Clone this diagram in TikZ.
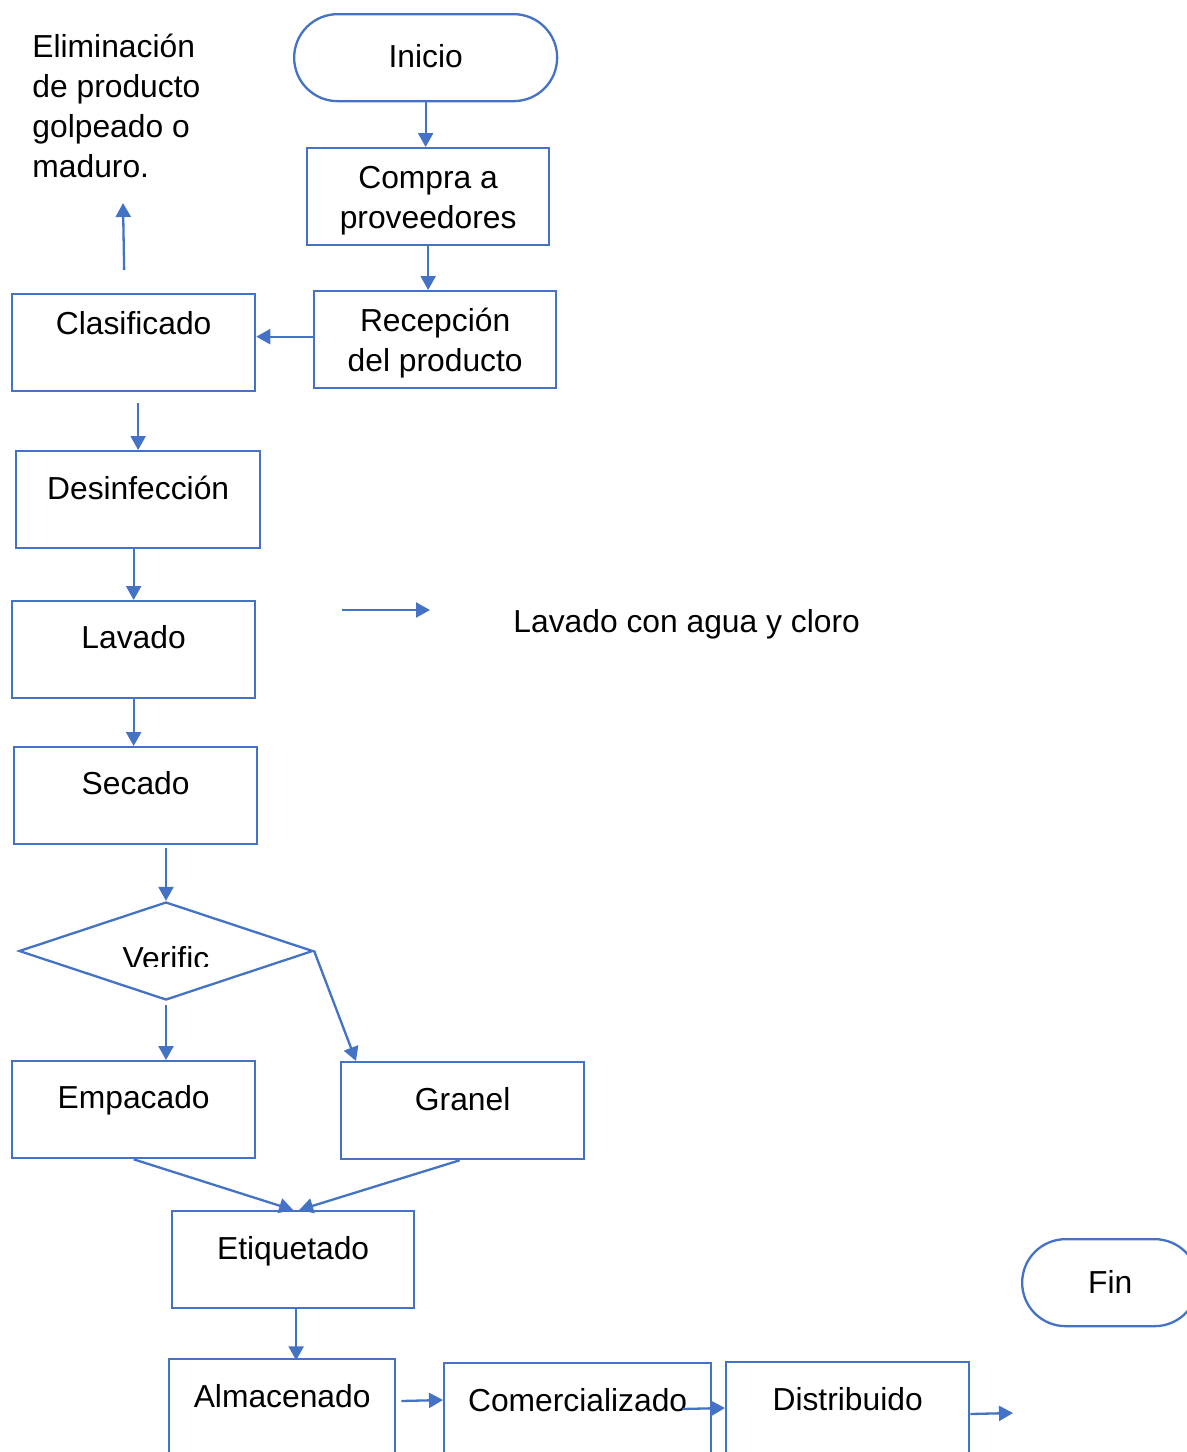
\documentclass[tikz,border=0pt]{standalone}
\usepackage{fontspec}
\setmainfont{Liberation Sans}
\usetikzlibrary{arrows.meta,shapes.geometric}
\definecolor{flowblue}{HTML}{4472C4}
\begin{document}
\begin{tikzpicture}[x=0.5pt,y=-0.5pt,
  font=\fontsize{15.9}{19.85}\selectfont,
  box/.style={draw=flowblue,line width=1.15pt,rectangle,inner sep=0pt,anchor=north west,minimum height=48.5pt},
  term/.style={draw=flowblue,line width=1.15pt,rectangle,rounded corners=21.75pt,inner sep=0pt,anchor=north west,minimum height=43.5pt},
  lbl/.style={anchor=base,inner sep=0pt,text=black},
  flow/.style={draw=flowblue,line width=1.15pt,-{Triangle[length=7pt,width=7.5pt]}},
]
\useasboundingbox (0,0) rectangle (1187,1452);
\clip (0,0) rectangle (1187,1452);
\fill[white] (0,0) rectangle (1187,1452);

% terminals
\node[term,minimum width=131.5pt] (inicio) at (293,13) {};
\node[term,minimum width=88pt] (fin) at (1021,1238) {};

% process boxes
\node[box,minimum width=121pt]   (compra)  at (306,147) {};
\node[box,minimum width=121pt]   (recep)   at (313,290) {};
\node[box,minimum width=121.5pt] (clasif)  at (11,293) {};
\node[box,minimum width=122pt]   (desinf)  at (15,450) {};
\node[box,minimum width=121.5pt] (lavado)  at (11,600) {};
\node[box,minimum width=121.5pt] (secado)  at (13,746) {};
\node[box,minimum width=121.5pt] (empac)   at (11,1060) {};
\node[box,minimum width=121.5pt] (granel)  at (340,1061) {};
\node[box,minimum width=121pt]   (etiq)    at (171,1210) {};
\node[box,minimum width=113pt]   (almac)   at (168,1358) {};
\node[box,minimum width=133.5pt] (comerc)  at (443,1362) {};
\node[box,minimum width=121.5pt] (distrib) at (725,1361) {};

% decision
\node[draw=flowblue,line width=1.15pt,diamond,shape aspect=3,inner sep=0pt,
      minimum width=147pt,minimum height=49pt] (dia) at (166,951) {};

% labels (base anchor of a multi-line label is its last line)
\node[lbl] (inicio-t) at ([yshift=-27pt]inicio.north) {Inicio};
\node[lbl] (fin-t) at ([yshift=-27.5pt]fin.north) {Fin};
\node[lbl,align=center] (compra-t) at ([yshift=-40.5pt]compra.north) {Compra a\\proveedores};
\node[lbl,align=center] (recep-t) at ([yshift=-40.5pt]recep.north) {Recepción\\del producto};
\node[lbl] (clasif-t) at ([yshift=-20.5pt]clasif.north) {Clasificado};
\node[lbl] (desinf-t) at ([yshift=-24.5pt]desinf.north) {Desinfección};
\node[lbl] (lavado-t) at ([yshift=-24pt]lavado.north) {Lavado};
\node[lbl] (secado-t) at ([yshift=-24pt]secado.north) {Secado};
\node[lbl] (empac-t) at ([yshift=-24pt]empac.north) {Empacado};
\node[lbl] (granel-t) at ([yshift=-24.5pt]granel.north) {Granel};
\node[lbl] (etiq-t) at ([yshift=-24.5pt]etiq.north) {Etiquetado};
\node[lbl] (almac-t) at ([yshift=-24.5pt]almac.north) {Almacenado};
\node[lbl] (comerc-t) at ([yshift=-24.5pt]comerc.north) {Comercializado};
\node[lbl] (distrib-t) at ([yshift=-24.5pt]distrib.north) {Distribuido};
\begin{scope}
  \clip (0,0) rectangle (1187,966);
  \node[lbl] (dia-t) at (166,969) {Verific};
\end{scope}

% side notes
\node[anchor=base west,inner sep=0pt,align=left] (elim) at (32,177)
  {Eliminación\\de producto\\golpeado o\\maduro.};
\node[anchor=base west,inner sep=0pt] (nota) at (513,632) {Lavado con agua y cloro};
\coordinate (elim-in) at (123,203);
\coordinate (nota-a) at (342,610);
\coordinate (nota-b) at (430,610);
\coordinate (dist-out) at (1013,1413);

% connectors
\draw[flow] (inicio.south) -- (inicio.south |- compra.north);
\draw[flow] (compra.south) -- (compra.south |- recep.north);
\draw[flow] ([yshift=1.5pt]recep.west) -- ([yshift=1.5pt]recep.west -| clasif.east);
\draw[flow] ([xshift=-4.75pt,yshift=11.5pt]clasif.north) -- (elim-in);
\draw[flow] (desinf.north |- clasif.south) ++(0,11) -- (desinf.north);
\draw[flow] (lavado.north |- desinf.south) -- (lavado.north);
\draw[flow] (lavado.south) -- (lavado.south |- secado.north);
\draw[flow] (dia.north |- secado.south) ++(0,3) -- (dia.north);
\draw[flow] (dia.south) ++(0,4) -- (dia.south |- empac.north);
\draw[flow] (dia.east) -- ([xshift=8pt]granel.north west);
\draw[flow] (empac.south) -- (etiq.north);
\draw[flow] ([xshift=-1.5pt]granel.south) -- ([xshift=3pt]etiq.north);
\draw[flow] ([xshift=1.5pt]etiq.south) -- ++(0,51);
\draw[flow] ([xshift=2.5pt,yshift=-21.5pt]almac.north east) -- ([yshift=-19pt]comerc.north west);
\draw[flow] ([xshift=-15pt,yshift=-23.5pt]comerc.north east) -- ([yshift=-23.5pt]distrib.north west);
\draw[flow] ([yshift=-26.5pt]distrib.north east) -- (dist-out);
\draw[flow] (nota-a) -- (nota-b);
\end{tikzpicture}
\end{document}
